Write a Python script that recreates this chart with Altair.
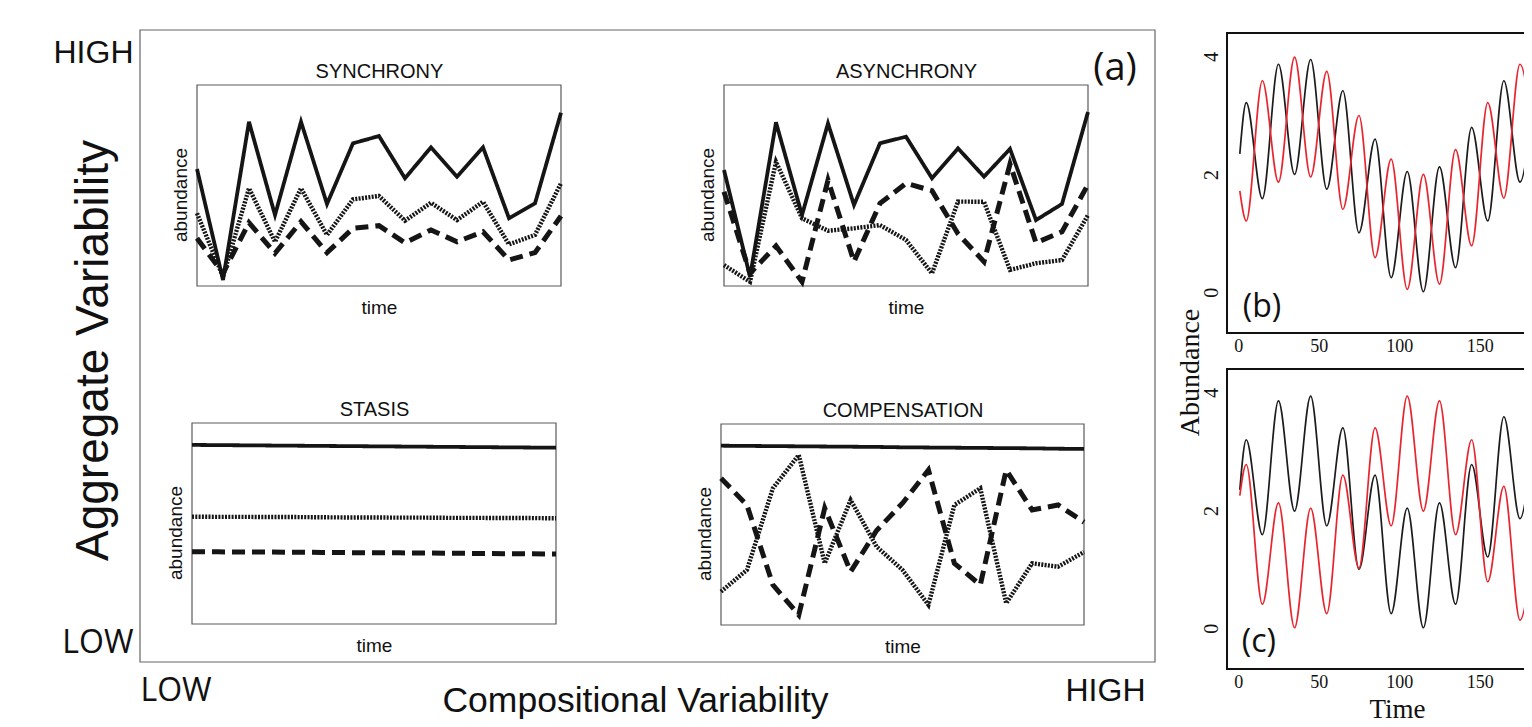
import altair as alt
import pandas as pd

# ---------------------------------------------------------------- data
# panel (a): four conceptual sub-panels, 15 time steps, abundance on a 0-100 scale
STEPS = [0, 1, 2, 3, 4, 5, 6, 7, 8, 9, 10, 11, 12, 13, 14]
ABUND_A = [0, 100]

SYNC_SOLID = [58.2, 3.0, 81.7, 35.3, 81.7, 40.8, 71.0, 74.6, 53.6, 69.0, 54.4, 69.0, 33.7, 41.1, 86.2]
SYNC_DOTTED = [36.2, 4.6, 48.6, 22.0, 48.6, 25.4, 43.1, 44.8, 32.5, 41.4, 32.8, 41.9, 20.7, 25.4, 51.1]
SYNC_DASHED = [23.7, 6.3, 31.5, 16.3, 32.0, 16.6, 28.7, 30.0, 21.5, 27.9, 22.0, 27.0, 12.9, 16.6, 34.8]

ASYNC_SOLID = [57.7, 4.6, 81.4, 35.3, 80.9, 40.3, 71.0, 74.3, 53.6, 68.5, 54.4, 68.2, 32.8, 40.8, 86.6]
ASYNC_DOTTED = [10.4, 2.1, 61.8, 33.7, 27.5, 28.7, 30.3, 22.9, 6.3, 42.0, 41.9, 8.0, 11.3, 12.9, 35.3]
ASYNC_DASHED = [46.9, 6.3, 19.9, 2.1, 52.7, 12.1, 41.1, 51.1, 47.4, 26.0, 12.1, 60.7, 21.5, 27.0, 50.5]

STASIS_SOLID = [89.1, 89.0, 88.9, 88.8, 88.7, 88.6, 88.5, 88.4, 88.3, 88.2, 88.1, 88.0, 87.9, 87.8, 87.7]
STASIS_DOTTED = [53.4, 53.3, 53.3, 53.2, 53.2, 53.1, 53.0, 53.0, 52.9, 52.9, 52.8, 52.8, 52.7, 52.7, 52.6]
STASIS_DASHED = [36.0, 35.9, 35.8, 35.8, 35.7, 35.6, 35.5, 35.4, 35.4, 35.3, 35.2, 35.1, 35.0, 34.9, 34.8]

COMP_SOLID = [89.2, 89.1, 89.0, 88.9, 88.8, 88.7, 88.6, 88.4, 88.3, 88.2, 88.1, 88.0, 87.9, 87.7, 87.6]
COMP_DOTTED = [16.6, 27.4, 68.0, 84.6, 30.7, 62.2, 39.0, 27.4, 10.0, 59.7, 68.0, 10.8, 30.7, 29.0, 36.3]
COMP_DASHED = [73.0, 59.7, 20.0, 5.0, 58.1, 26.5, 47.0, 60.6, 77.1, 30.7, 19.9, 77.1, 57.2, 59.7, 51.2]

STYLE_NAMES = ["solid", "dotted", "dashed"]
LEVELS = [0, 1]
LEVEL_LABELS = ["LOW", "HIGH"]

# panels (b) and (c): peaks / troughs of two species
WAVE_TIME = [1, 5, 15, 25, 35, 45, 55, 65, 75, 85, 95, 105, 115, 125, 135, 145, 155, 165, 175, 185]
B_BLACK = [2.35, 3.22, 1.59, 3.87, 2.00, 3.95, 1.75, 3.42, 1.01, 2.60, 0.25, 2.05, 0.01, 2.13, 0.42, 2.80, 1.21, 3.59, 1.87, 3.99]
B_RED = [1.72, 1.21, 3.59, 1.87, 3.99, 1.96, 3.75, 1.41, 3.00, 0.59, 2.26, 0.05, 2.00, 0.14, 2.42, 0.79, 3.22, 1.60, 3.87, 2.00]
C_BLACK = [2.35, 3.20, 1.59, 3.86, 1.99, 3.94, 1.74, 3.40, 1.00, 2.60, 0.25, 2.04, 0.01, 2.13, 0.41, 2.78, 1.21, 3.59, 1.86, 3.99]
C_RED = [2.25, 2.78, 0.41, 2.13, 0.01, 2.04, 0.25, 2.60, 1.02, 3.40, 1.74, 3.94, 1.99, 3.86, 1.59, 3.20, 0.79, 2.41, 0.14, 2.00]
SPECIES = ["black", "red"]
WAVE_X_DOMAIN = [-6.96, 207.96]
WAVE_Y_DOMAIN = [-0.69, 4.40]
ABUND_TICKS = [0, 2, 4]
TIME_TICKS = [0, 50, 100, 150]

# ---------------------------------------------------------------- layout / style
W, H = 1516, 715
M = 8
SANS = "Liberation Sans"
SERIF = "Liberation Serif"
ROUND = "Open Sans"
INK = "#111111"
PX_PER_T = 1.61


def P(v):
    return v - M


def plain_axis(**kw):
    base = dict(labels=False, ticks=False, domain=False, grid=False,
                titleFont=SANS, titleFontWeight="normal", titleColor=INK)
    base.update(kw)
    return alt.Axis(**base)


def sub_panel(title, solid, dotted, dashed, frame):
    left, right, top, bottom = [P(v) for v in frame]
    n = len(STEPS)
    series = pd.DataFrame({
        "step": STEPS * 3,
        "abundance": solid + dotted + dashed,
        "style": ["solid"] * n + ["dotted"] * n + ["dashed"] * n,
    })
    box_df = pd.DataFrame({"x0": [STEPS[0]], "x1": [STEPS[-1]],
                           "y0": [ABUND_A[0]], "y1": [ABUND_A[1]]})
    xs = alt.Scale(domain=[STEPS[0], STEPS[-1]], range=[left, right], nice=False, zero=False)
    ys = alt.Scale(domain=ABUND_A, range=[bottom, top], nice=False, zero=False)
    box = alt.Chart(box_df).mark_rect(
        fill="#ffffff", fillOpacity=0, stroke="#5a5a5a", strokeWidth=1.2
    ).encode(
        x=alt.X("x0:Q", scale=xs, axis=plain_axis(
            orient="top", offset=-top, title=title, titleY=-8,
            titleBaseline="alphabetic", titleFontSize=20)),
        x2="x1:Q",
        y=alt.Y("y0:Q", scale=ys, axis=None),
        y2="y1:Q",
    )
    lines = alt.Chart(series).mark_line(color="#151515").encode(
        x=alt.X("step:Q", scale=xs, axis=plain_axis(
            orient="bottom", offset=bottom - H, title="time", titleY=27,
            titleBaseline="alphabetic", titleFontSize=19)),
        y=alt.Y("abundance:Q", scale=ys, axis=plain_axis(
            orient="left", offset=-left, title="abundance", titleX=-11,
            titleY=(top + bottom) / 2 + 9, titleAngle=270,
            titleBaseline="alphabetic", titleFontSize=19)),
        strokeDash=alt.StrokeDash("style:N", scale=alt.Scale(
            domain=STYLE_NAMES, range=[[1, 0], [2, 1.3], [13, 7]]), legend=None),
        strokeWidth=alt.StrokeWidth("style:N", scale=alt.Scale(
            domain=STYLE_NAMES, range=[3.8, 5.0, 3.8]), legend=None),
    )
    return alt.layer(box, lines).resolve_axis(x="independent", y="independent")


def frame_panel():
    left, right, top, bottom = P(140), P(1155), P(30), P(662)
    xs = alt.Scale(domain=LEVELS, range=[left, right], nice=False, zero=False)
    ys = alt.Scale(domain=LEVELS, range=[bottom, top], nice=False, zero=False)
    label_expr = "['%s','%s'][datum.value]" % (LEVEL_LABELS[0], LEVEL_LABELS[1])
    label_font = {"condition": {"test": "datum.value == 0", "value": ROUND}, "value": SANS}
    box = alt.Chart(pd.DataFrame({"x0": [LEVELS[0]], "x1": [LEVELS[1]],
                                  "y0": [LEVELS[0]], "y1": [LEVELS[1]]})).mark_rect(
        fill="#ffffff", fillOpacity=0, stroke="#666666", strokeWidth=1.2
    ).encode(
        x=alt.X("x0:Q", scale=xs, axis=alt.Axis(
            orient="bottom", offset=bottom - H, values=LEVELS, labelExpr=label_expr,
            labelFlush=True, ticks=False, domain=False, grid=False,
            labelFont=label_font, labelFontSize=32, labelColor=INK, labelPadding=13,
            labelOffset={"condition": {"test": "datum.value == 1", "value": -10}, "value": 0},
            title="Compositional Variability", titleX=P(635), titleY=49,
            titleBaseline="alphabetic", titleFont=SANS, titleFontSize=35.5,
            titleFontWeight="normal", titleColor=INK)),
        x2="x1:Q",
        y=alt.Y("y0:Q", scale=ys, axis=alt.Axis(
            orient="left", offset=-left, values=LEVELS, labelExpr=label_expr,
            labelFlush=True, ticks=False, domain=False, grid=False,
            labelFont=label_font, labelFontSize=32, labelColor=INK, labelPadding=7,
            labelOffset={"condition": {"test": "datum.value == 1", "value": 7}, "value": -3},
            title="Aggregate Variability", titleX=-33, titleY=P(350), titleAngle=270,
            titleBaseline="alphabetic", titleFont=SANS, titleFontSize=46,
            titleFontWeight="normal", titleColor=INK)),
        y2="y1:Q",
    )
    tag = alt.Chart(pd.DataFrame({"x": [0.982], "y": [0.939], "label": ["(a)"]})).mark_text(
        align="right", baseline="middle", font=ROUND, fontSize=38, color=INK
    ).encode(
        x=alt.X("x:Q", scale=xs, axis=None),
        y=alt.Y("y:Q", scale=ys, axis=None),
        text="label:N",
    )
    return alt.layer(box, tag).resolve_axis(x="independent", y="independent")


def wave_panel(black, red, frame, tag, tag_pos, show_titles):
    left, top, bottom = P(frame[0]), P(frame[1]), P(frame[2])
    span = (WAVE_X_DOMAIN[1] - WAVE_X_DOMAIN[0]) * PX_PER_T
    xs = alt.Scale(domain=WAVE_X_DOMAIN, range=[left, left + span], nice=False, zero=False)
    ys = alt.Scale(domain=WAVE_Y_DOMAIN, range=[bottom, top], nice=False, zero=False)
    n = len(WAVE_TIME)
    df = pd.DataFrame({"time": WAVE_TIME * 2, "abundance": black + red,
                       "species": ["black"] * n + ["red"] * n})
    xkw = dict(orient="bottom", offset=bottom - H, values=TIME_TICKS, ticks=False,
               domain=False, grid=False, labelFont=SERIF, labelFontSize=18,
               labelColor=INK, labelPadding=4, title="")
    ykw = dict(orient="left", offset=-left, values=ABUND_TICKS, ticks=False,
               domain=False, grid=False, labelFont=SERIF, labelFontSize=20,
               labelColor=INK, labelPadding=6, labelAngle=-90,
               labelAlign="center", labelBaseline="bottom", title="")
    if show_titles:
        xkw.update(title="Time", titleX=P(1397), titleY=P(717) - bottom, titleBaseline="alphabetic",
                   titleFont=SERIF, titleFontSize=27, titleFontWeight="normal", titleColor=INK)
        ykw.update(title="Abundance", titleX=-29, titleY=P(372), titleAngle=270,
                   titleBaseline="alphabetic", titleFont=SERIF, titleFontSize=28,
                   titleFontWeight="normal", titleColor=INK)
    box = alt.Chart(pd.DataFrame({"x0": [WAVE_X_DOMAIN[0]], "x1": [WAVE_X_DOMAIN[1]],
                                  "y0": [WAVE_Y_DOMAIN[0]], "y1": [WAVE_Y_DOMAIN[1]]})).mark_rect(
        fill="#ffffff", fillOpacity=0, stroke="#111111", strokeWidth=2, clip=True
    ).encode(
        x=alt.X("x0:Q", scale=xs, axis=None), x2="x1:Q",
        y=alt.Y("y0:Q", scale=ys, axis=None), y2="y1:Q",
    )
    lines = alt.Chart(df).mark_line(interpolate="monotone", strokeWidth=1.7, clip=True).encode(
        x=alt.X("time:Q", scale=xs, axis=alt.Axis(**xkw)),
        y=alt.Y("abundance:Q", scale=ys, axis=alt.Axis(**ykw)),
        color=alt.Color("species:N", scale=alt.Scale(domain=SPECIES, range=["#1c1c1c", "#e8262f"]),
                        legend=None),
    )
    label = alt.Chart(pd.DataFrame({"time": [tag_pos[0]], "abundance": [tag_pos[1]],
                                    "label": [tag]})).mark_text(
        align="left", baseline="middle", font=ROUND, fontSize=32, color=INK
    ).encode(
        x=alt.X("time:Q", scale=xs, axis=None),
        y=alt.Y("abundance:Q", scale=ys, axis=None),
        text="label:N",
    )
    return alt.layer(box, lines, label).resolve_axis(x="independent", y="independent")


chart = alt.layer(
    frame_panel(),
    sub_panel("SYNCHRONY", SYNC_SOLID, SYNC_DOTTED, SYNC_DASHED, (197, 561, 85, 286)),
    sub_panel("ASYNCHRONY", ASYNC_SOLID, ASYNC_DOTTED, ASYNC_DASHED, (724, 1088, 85, 286)),
    sub_panel("STASIS", STASIS_SOLID, STASIS_DOTTED, STASIS_DASHED, (192, 556, 423, 624)),
    sub_panel("COMPENSATION", COMP_SOLID, COMP_DOTTED, COMP_DASHED, (721, 1084, 424, 625)),
    wave_panel(B_BLACK, B_RED, (1227, 33, 333), "(b)", (2.8, -0.25), False),
    wave_panel(C_BLACK, C_RED, (1227, 369, 669), "(c)", (2.2, -0.23), True),
).resolve_scale(
    x="independent", y="independent"
).properties(
    width=W, height=H, padding=0,
    autosize=alt.AutoSizeParams(type="none"),
    background="white",
).configure_view(strokeWidth=0)

chart.save("out.html", embed_options={"renderer": "svg", "actions": False})
